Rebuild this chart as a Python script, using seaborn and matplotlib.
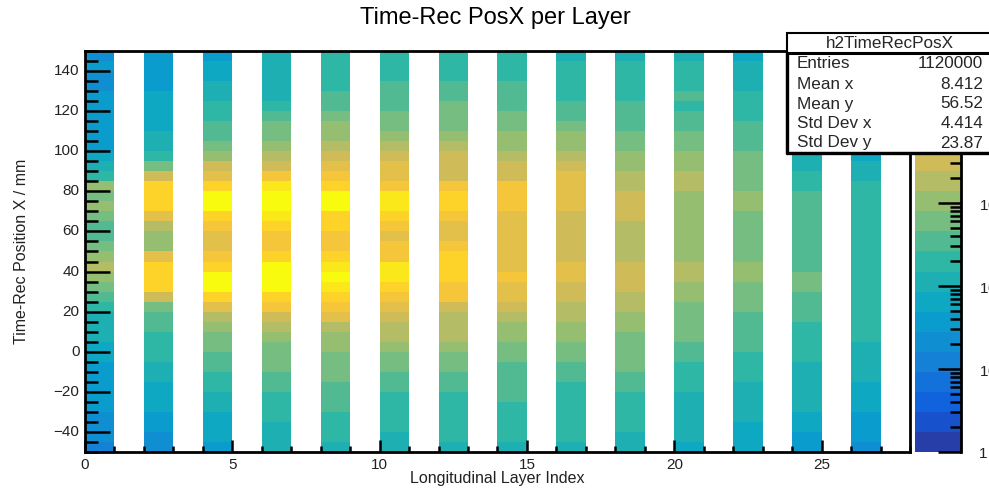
import numpy as np
import pandas as pd
import seaborn as sns
import matplotlib
matplotlib.use("Agg")
import matplotlib.pyplot as plt
from matplotlib.colors import LinearSegmentedColormap, ListedColormap, LogNorm
from matplotlib.patches import Rectangle
from matplotlib.lines import Line2D
from matplotlib.ticker import (MultipleLocator, FixedLocator, FixedFormatter,
                               FormatStrFormatter, NullLocator)

# ---------------- data ----------------
layers = [0, 2, 4, 6, 8, 10, 12, 14, 16, 18, 20, 22, 24, 26]
n_layer_bins = 28
y_lo, y_hi, y_bin = -50, 150, 5          # time-rec position X bins (mm)

# bin contents per layer, bins from y=-50 (bottom) to y=150 (top), 5 mm each
counts_l00 = [12, 21, 21, 21, 37, 37, 37, 37, 37, 65, 65, 110, 110, 110, 200, 340, 600, 1050, 1800, 1050,
              600, 340, 340, 600, 1050, 600, 1050, 200, 110, 65, 37, 37, 37, 37, 37, 37, 21, 21, 37, 21]
counts_l02 = [21, 21, 37, 37, 65, 65, 65, 110, 110, 200, 200, 200, 340, 340, 600, 3200, 17000, 17000, 17000, 5500,
              1050, 1050, 1800, 5500, 17000, 17000, 17000, 3200, 600, 200, 110, 110, 65, 65, 65, 65, 37, 37, 37, 37]
counts_l04 = [37, 65, 65, 65, 110, 110, 200, 200, 340, 340, 600, 600, 1050, 1800, 5500, 17000, 51000, 51000, 17000, 9700,
              5500, 5500, 9700, 17000, 51000, 51000, 17000, 5500, 3200, 1050, 600, 340, 340, 200, 200, 110, 110, 65, 65, 37]
counts_l06 = [110, 110, 110, 200, 200, 200, 340, 340, 600, 600, 600, 1050, 1800, 3200, 9700, 17000, 51000, 51000, 51000, 17000,
              9700, 9700, 17000, 29000, 51000, 51000, 29000, 9700, 3200, 1800, 1050, 600, 600, 340, 200, 110, 110, 110, 110, 110]
counts_l08 = [110, 200, 200, 200, 340, 340, 340, 600, 600, 600, 1050, 1050, 1800, 5500, 9700, 17000, 29000, 51000, 29000, 17000,
              9700, 9700, 17000, 17000, 51000, 51000, 17000, 9700, 5500, 3200, 1800, 1050, 1050, 600, 340, 340, 200, 200, 200, 200]
counts_l10 = [110, 110, 200, 200, 200, 200, 340, 340, 600, 600, 1050, 1800, 1800, 3200, 5500, 9700, 17000, 29000, 29000, 9700,
              9700, 5500, 9700, 17000, 29000, 29000, 9700, 5500, 5500, 3200, 1800, 1050, 600, 600, 340, 340, 340, 200, 200, 200]
counts_l12 = [110, 200, 200, 200, 200, 200, 340, 340, 600, 600, 1050, 1800, 1800, 1800, 3200, 9700, 9700, 17000, 17000, 17000,
              9700, 5500, 5500, 9700, 17000, 17000, 9700, 3200, 3200, 3200, 1800, 1050, 600, 600, 600, 340, 340, 200, 200, 200]
counts_l14 = [110, 200, 200, 200, 200, 340, 340, 340, 340, 600, 600, 1050, 1050, 1800, 3200, 5500, 5500, 9700, 5500, 5500,
              5500, 5500, 5500, 5500, 9700, 9700, 9700, 3200, 3200, 1800, 1050, 1050, 600, 600, 340, 340, 340, 200, 200, 200]
counts_l16 = [110, 200, 200, 200, 200, 200, 200, 340, 340, 600, 600, 1050, 1050, 1800, 1800, 3200, 3200, 5500, 5500, 3200,
              3200, 3200, 3200, 3200, 5500, 5500, 5500, 5500, 3200, 1800, 1050, 1050, 600, 340, 340, 200, 200, 200, 200, 110]
counts_l18 = [110, 110, 200, 200, 200, 200, 340, 340, 600, 600, 600, 600, 1050, 1050, 1800, 1800, 3200, 3200, 3200, 1800,
              1800, 1800, 1800, 3200, 3200, 3200, 1800, 1800, 1050, 1050, 600, 600, 340, 340, 340, 200, 200, 200, 200, 110]
counts_l20 = [65, 110, 110, 110, 110, 110, 200, 200, 200, 340, 340, 600, 600, 600, 600, 1050, 1050, 1800, 1800, 1050,
              1050, 1050, 1050, 1050, 1050, 1050, 1800, 1800, 1050, 1050, 600, 600, 340, 340, 200, 340, 200, 200, 200, 110]
counts_l22 = [65, 65, 65, 110, 110, 110, 110, 200, 200, 200, 340, 340, 340, 340, 600, 600, 600, 1050, 1050, 600,
              600, 600, 600, 600, 1050, 1050, 600, 600, 600, 600, 340, 340, 340, 200, 200, 200, 110, 110, 110, 65]
counts_l24 = [37, 37, 65, 65, 110, 110, 110, 110, 110, 200, 200, 200, 200, 340, 340, 340, 600, 600, 340, 340,
              340, 340, 340, 340, 340, 340, 200, 200, 110, 110, 110, 110, 65, 65, 65, 65, 65, 37, 37, 37]
counts_l26 = [21, 37, 37, 37, 65, 65, 65, 110, 110, 110, 110, 200, 200, 200, 200, 200, 200, 200, 200, 200,
              200, 200, 200, 200, 200, 200, 200, 110, 110, 65, 65, 65, 37, 37, 37, 37, 37, 21, 21, 21]

layer_counts = [counts_l00, counts_l02, counts_l04, counts_l06, counts_l08, counts_l10, counts_l12,
                counts_l14, counts_l16, counts_l18, counts_l20, counts_l22, counts_l24, counts_l26]

z_min, z_max = 1.0, 10 ** 4.83
n_contours = 20

y_major = [-40, -20, 0, 20, 40, 60, 80, 100, 120, 140]
cbar_ticks = [1, 10, 100, 1000]
cbar_labels = ["1", "$10^{1}$", "$10^{2}$", "$10^{3}$"]
cbar_decades = [1, 10, 100, 1000, 10000]

stats_title = "h2TimeRecPosX"
stats_names = ["Entries", "Mean x", "Mean y", "Std Dev x", "Std Dev y"]
stats_values = ["1120000", "8.412", "56.52", "4.414", "23.87"]

title = "Time-Rec PosX per Layer"
xlabel = "Longitudinal Layer Index"
ylabel = "Time-Rec Position X / mm"

# ---------------- style ----------------
sns.set_style("white")
plt.rcParams["font.family"] = ["Liberation Sans", "DejaVu Sans"]
plt.rcParams["mathtext.fontset"] = "custom"
plt.rcParams["mathtext.rm"] = "Liberation Sans"
plt.rcParams["mathtext.it"] = "Liberation Sans"
plt.rcParams["axes.axisbelow"] = False

# ROOT kBird palette, 20 contour colours
stops = [0.0, 0.125, 0.25, 0.375, 0.5, 0.625, 0.75, 0.875, 1.0]
red = [0.2082, 0.0592, 0.0780, 0.0232, 0.1802, 0.5301, 0.8186, 0.9956, 0.9764]
green = [0.1664, 0.3599, 0.5041, 0.6419, 0.7178, 0.7492, 0.7328, 0.7862, 0.9832]
blue = [0.5293, 0.8684, 0.8385, 0.7914, 0.6425, 0.4662, 0.3499, 0.1968, 0.0539]
bird = LinearSegmentedColormap.from_list("bird", list(zip(stops, zip(red, green, blue))))
cmap = ListedColormap([bird(min(1.0, (i + 0.99) / n_contours)) for i in range(n_contours)])
norm = LogNorm(vmin=z_min, vmax=z_max)

# ---------------- build grid ----------------
n_ybins = int((y_hi - y_lo) / y_bin)
grid = np.full((n_ybins, n_layer_bins), np.nan)
for layer, cnt in zip(layers, layer_counts):
    grid[:, layer] = cnt
df = pd.DataFrame(grid, columns=list(range(n_layer_bins)))

W, H = 989, 490
fig = plt.figure(figsize=(W / 100, H / 100), dpi=100)
fig.patch.set_facecolor("white")

def fx(px):
    return px / W

def fy(py):
    return 1 - py / H

ax_l, ax_r, ax_t, ax_b = 85, 910, 51, 452
cb_l, cb_r = 915, 961
ax = fig.add_axes([fx(ax_l), fy(ax_b), fx(ax_r) - fx(ax_l), fy(ax_t) - fy(ax_b)])
cax = fig.add_axes([fx(cb_l), fy(ax_b), fx(cb_r) - fx(cb_l), fy(ax_t) - fy(ax_b)])

# ---------------- main 2D histogram ----------------
sns.heatmap(df, ax=ax, cmap=cmap, norm=norm, cbar=False, linewidths=0)
ax.set_ylim(0, n_ybins)
ax.set_xlim(0, n_layer_bins)
ax.set_axisbelow(False)

for side in ["left", "right", "top", "bottom"]:
    ax.spines[side].set_visible(True)
    ax.spines[side].set_color("black")
    ax.spines[side].set_linewidth(2.0)
    ax.spines[side].set_zorder(3)

ax.xaxis.set_major_locator(MultipleLocator(5))
ax.xaxis.set_minor_locator(MultipleLocator(1))
ax.xaxis.set_major_formatter(FormatStrFormatter("%d"))
ax.yaxis.set_major_locator(FixedLocator([(v - y_lo) / y_bin for v in y_major]))
ax.yaxis.set_major_formatter(FixedFormatter([str(v).replace("-", "\u2212") for v in y_major]))
ax.yaxis.set_minor_locator(MultipleLocator(1))
ax.tick_params(axis="both", which="both", direction="in", top=False, right=False,
               bottom=True, left=True, colors="black", labelsize=11, width=1.8,
               labelrotation=0)
ax.tick_params(axis="x", which="major", length=8.6, pad=4)
ax.tick_params(axis="x", which="minor", length=4.3)
ax.tick_params(axis="y", which="major", length=18, pad=4)
ax.tick_params(axis="y", which="minor", length=9)
ax.set_xlabel("")
ax.set_ylabel("")
for lab in ax.get_xticklabels() + ax.get_yticklabels():
    lab.set_color("#222222")

# ---------------- palette (z scale) drawn as a seaborn heatmap strip ----------------
swatch = pd.DataFrame({"z": [z_min * (z_max / z_min) ** ((c + 0.5) / n_contours)
                             for c in range(n_contours)]})
sns.heatmap(swatch, ax=cax, cmap=cmap, norm=norm, cbar=False, linewidths=0,
            xticklabels=False, yticklabels=False)
cax.set_ylim(0, n_contours)
cax.set_xlim(0, 1)
cax.set_axisbelow(False)
for side in ["left", "top", "bottom"]:
    cax.spines[side].set_visible(False)
cax.spines["right"].set_visible(True)
cax.spines["right"].set_color("black")
cax.spines["right"].set_linewidth(2.0)
cax.spines["right"].set_zorder(3)

minor_vals = [d * s for d in cbar_decades for s in range(2, 10) if z_min < d * s < z_max]
cax.yaxis.set_major_locator(FixedLocator([float(norm(v)) * n_contours for v in cbar_ticks]))
cax.yaxis.set_major_formatter(FixedFormatter(cbar_labels))
cax.yaxis.set_minor_locator(FixedLocator([float(norm(v)) * n_contours for v in minor_vals]))
cax.xaxis.set_major_locator(NullLocator())
cax.xaxis.set_minor_locator(NullLocator())
cax.tick_params(axis="y", which="both", direction="in", left=False, right=True,
                labelleft=False, labelright=True, color="black", labelcolor="#222222",
                width=1.8, labelrotation=0)
cax.tick_params(axis="y", which="major", length=16.5, pad=13, labelsize=11)
cax.tick_params(axis="y", which="minor", length=8)
cax.tick_params(axis="x", which="both", bottom=False, top=False, labelbottom=False)
cax.set_xlabel("")
cax.set_ylabel("")

# ---------------- texts ----------------
fig.text(fx(495), fy(18), title, ha="center", va="center", fontsize=17, color="black")
fig.text(fx(497), fy(478), xlabel, ha="center", va="center", fontsize=11.5, color="#222222")
fig.text(fx(22), fy(251), ylabel, ha="center", va="center", rotation=90, fontsize=11.5, color="#222222")

# ---------------- stats box ----------------
bx0, bx1, by0, by1, bdiv = 787, 992, 33, 153, 53
fig.add_artist(Rectangle((fx(bx0), fy(by1)), fx(bx1) - fx(bx0), fy(by0) - fy(by1),
                         transform=fig.transFigure, facecolor="white", edgecolor="black",
                         lw=1.5, zorder=20))
fig.add_artist(Line2D([fx(bx0), fx(bx1)], [fy(bdiv), fy(bdiv)], transform=fig.transFigure,
                      color="black", lw=2.2, zorder=21))
fig.add_artist(Line2D([fx(bx0), fx(bx0)], [fy(by1), fy(bdiv)], transform=fig.transFigure,
                      color="black", lw=2.4, zorder=21))
fig.add_artist(Line2D([fx(bx0), fx(bx1)], [fy(by1), fy(by1)], transform=fig.transFigure,
                      color="black", lw=2.4, zorder=21))
fig.text(fx(890), fy(44), stats_title, ha="center", va="center", fontsize=12.3, zorder=22)
row_y = [64, 84, 104, 124, 143]
for name, val, yy in zip(stats_names, stats_values, row_y):
    fig.text(fx(797), fy(yy), name, ha="left", va="center", fontsize=12.3, zorder=22)
    fig.text(fx(983), fy(yy), val, ha="right", va="center", fontsize=12.3, zorder=22)

fig.savefig("out.png", dpi=100, facecolor="white")
